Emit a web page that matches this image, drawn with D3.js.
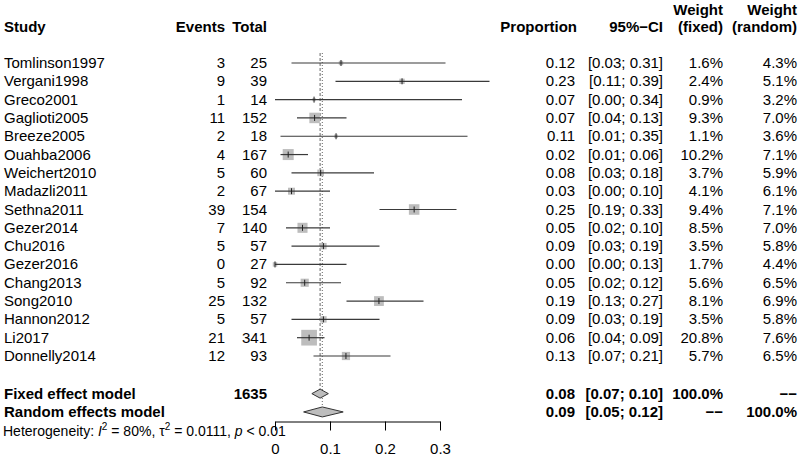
<!DOCTYPE html>
<html><head><meta charset="utf-8">
<script src="https://cdn.jsdelivr.net/npm/d3@7"></script>
<style>
body{margin:0;background:#fff;}
svg{display:block;font-family:Arial,"Liberation Sans",sans-serif;}
</style></head>
<body><svg id="c" width="800" height="457"></svg>
<script>
const studies = ["Tomlinson1997","Vergani1998","Greco2001","Gaglioti2005","Breeze2005","Ouahba2006","Weichert2010","Madazli2011","Sethna2011","Gezer2014","Chu2016","Gezer2016","Chang2013","Song2010","Hannon2012","Li2017","Donnelly2014"];
const events = [3,9,1,11,2,4,5,2,39,7,5,0,5,25,5,21,12];
const totals = [25,39,14,152,18,167,60,67,154,140,57,27,92,132,57,341,93];
const proportion = [0.12,0.231,0.071,0.072,0.111,0.024,0.083,0.030,0.253,0.050,0.088,0.000,0.054,0.189,0.088,0.062,0.129];
const ciLow = [0.03,0.11,0.00,0.04,0.01,0.01,0.03,0.00,0.19,0.02,0.03,0.00,0.02,0.13,0.03,0.04,0.07];
const ciHigh = [0.31,0.39,0.34,0.13,0.35,0.06,0.18,0.10,0.33,0.10,0.19,0.13,0.12,0.27,0.19,0.09,0.21];
const wFixed = [1.6,2.4,0.9,9.3,1.1,10.2,3.7,4.1,9.4,8.5,3.5,1.7,5.6,8.1,3.5,20.8,5.7];
const wRandom = [4.3,5.1,3.2,7.0,3.6,7.1,5.9,6.1,7.1,7.0,5.8,4.4,6.5,6.9,5.8,7.6,6.5];
const pooledLabels = ["Fixed effect model","Random effects model"];
const pooledTotal = 1635;
const pooledEst = [0.082,0.086];
const pooledLow = [0.067,0.052];
const pooledHigh = [0.097,0.124];
const pooledWFixed = ["100.0%","\u2212\u2212"];
const pooledWRandom = ["\u2212\u2212","100.0%"];
const axisTicks = [0,0.1,0.2,0.3];

const svg = d3.select("#c");
const x = d3.scaleLinear().domain([0,0.3]).range([275,440]);
const y = d3.scaleLinear().domain([0,16]).range([63,356]);
const size = d3.scaleSqrt().domain([0,20.8]).range([0,15.7]);
const f2 = d3.format(".2f");
const FS = 15;
const col = {study:4, events:225, total:267, prop:575, ci:663, wf:723, wr:797};

// header
const hdr = svg.append("g").attr("font-weight","bold").attr("font-size",FS);
hdr.append("text").attr("x",col.study).attr("y",32).text("Study");
hdr.append("text").attr("x",col.events).attr("y",32).attr("text-anchor","end").text("Events");
hdr.append("text").attr("x",col.total).attr("y",32).attr("text-anchor","end").text("Total");
hdr.append("text").attr("x",577).attr("y",32).attr("text-anchor","end").text("Proportion");
hdr.append("text").attr("x",col.ci).attr("y",32).attr("text-anchor","end").text("95%\u2212CI");
hdr.append("text").attr("x",col.wf).attr("y",15).attr("text-anchor","end").text("Weight");
hdr.append("text").attr("x",col.wf).attr("y",32).attr("text-anchor","end").text("(fixed)");
hdr.append("text").attr("x",col.wr).attr("y",15).attr("text-anchor","end").text("Weight");
hdr.append("text").attr("x",col.wr).attr("y",32).attr("text-anchor","end").text("(random)");

// reference lines
svg.append("line").attr("x1",x(pooledEst[0])).attr("x2",x(pooledEst[0]))
  .attr("y1",53).attr("y2",y(18)-4).attr("stroke","#666").attr("stroke-width",1).attr("stroke-dasharray","3,2");
svg.append("line").attr("x1",x(pooledEst[1])).attr("x2",x(pooledEst[1]))
  .attr("y1",53).attr("y2",y(19)-5).attr("stroke","#666").attr("stroke-width",1).attr("stroke-dasharray","1,2");

// study rows
const rows = svg.append("g").attr("font-size",FS);
studies.forEach((s,i)=>{
  const yy = y(i), yb = yy+5;
  rows.append("text").attr("x",col.study).attr("y",yb).text(s);
  rows.append("text").attr("x",col.events).attr("y",yb).attr("text-anchor","end").text(events[i]);
  rows.append("text").attr("x",col.total).attr("y",yb).attr("text-anchor","end").text(totals[i]);
  rows.append("text").attr("x",col.prop).attr("y",yb).attr("text-anchor","end").text(f2(proportion[i]));
  rows.append("text").attr("x",col.ci).attr("y",yb).attr("text-anchor","end").text("["+f2(ciLow[i])+"; "+f2(ciHigh[i])+"]");
  rows.append("text").attr("x",col.wf).attr("y",yb).attr("text-anchor","end").text(wFixed[i].toFixed(1)+"%");
  rows.append("text").attr("x",col.wr).attr("y",yb).attr("text-anchor","end").text(wRandom[i].toFixed(1)+"%");
  const s2 = size(wFixed[i]);
  rows.append("rect").attr("x",x(proportion[i])-s2/2).attr("y",yy-s2/2).attr("width",s2).attr("height",s2).attr("fill","#bdbdbd");
  rows.append("line").attr("x1",x(ciLow[i])).attr("x2",x(ciHigh[i])).attr("y1",yy).attr("y2",yy).attr("stroke","#3a3a3a").attr("stroke-width",1.2);
  rows.append("line").attr("x1",x(proportion[i])).attr("x2",x(proportion[i])).attr("y1",yy-3).attr("y2",yy+3).attr("stroke","#222").attr("stroke-width",1);
});

// pooled rows
const pg = svg.append("g").attr("font-size",FS).attr("font-weight","bold");
const pooledY = [y(18)+1, y(19)+1];
const halfH = [4.5,5];
pooledLabels.forEach((lab,k)=>{
  const yy = pooledY[k], yb = yy+5;
  pg.append("text").attr("x",col.study).attr("y",yb).text(lab);
  if(k===0) pg.append("text").attr("x",col.total).attr("y",yb).attr("text-anchor","end").text(pooledTotal);
  pg.append("text").attr("x",col.prop).attr("y",yb).attr("text-anchor","end").text(f2(pooledEst[k]));
  pg.append("text").attr("x",col.ci).attr("y",yb).attr("text-anchor","end").text("["+f2(pooledLow[k])+"; "+f2(pooledHigh[k])+"]");
  pg.append("text").attr("x",col.wf).attr("y",yb).attr("text-anchor","end").text(pooledWFixed[k]);
  pg.append("text").attr("x",col.wr).attr("y",yb).attr("text-anchor","end").text(pooledWRandom[k]);
  const h = halfH[k];
  svg.append("path").attr("d",`M${x(pooledLow[k])},${yy}L${x(pooledEst[k])},${yy-h}L${x(pooledHigh[k])},${yy}L${x(pooledEst[k])},${yy+h}Z`)
    .attr("fill","#bdbdbd").attr("stroke","#333").attr("stroke-width",1);
});

// heterogeneity
const ht = svg.append("text").attr("x",3).attr("y",436).attr("font-size",14);
ht.append("tspan").text("Heterogeneity: ");
ht.append("tspan").attr("font-style","italic").text("I");
ht.append("tspan").attr("font-size",10).attr("dy",-6).text("2");
ht.append("tspan").attr("dy",6).text(" = 80%, \u03c4");
ht.append("tspan").attr("font-size",10).attr("dy",-6).text("2");
ht.append("tspan").attr("dy",6).text(" = 0.0111, ");
ht.append("tspan").attr("font-style","italic").text("p");
ht.append("tspan").text(" < 0.01");

// axis
const ax = svg.append("g").attr("transform","translate(0,421.5)")
  .call(d3.axisBottom(x).tickValues(axisTicks).tickSize(9).tickSizeOuter(0).tickPadding(13)
    .tickFormat(d=>d===0?"0":d3.format(".1f")(d)));
ax.selectAll("text").attr("font-size",FS).attr("font-family","Arial, 'Liberation Sans', sans-serif").attr("fill","#000");
ax.selectAll("line,path").attr("stroke","#000");
</script></body></html>
